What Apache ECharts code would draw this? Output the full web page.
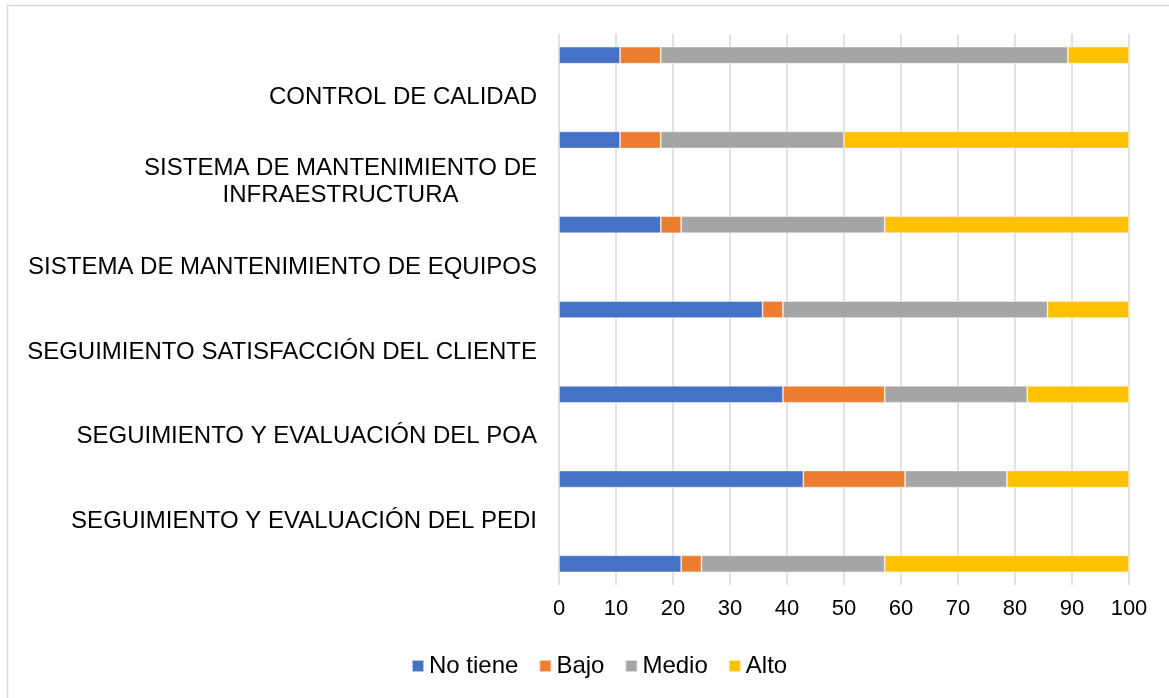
<!DOCTYPE html>
<html lang="es">
<head>
    <meta charset="UTF-8" />
    <title>Gráfico</title>
    <style>
        body {
            margin: 0;
            padding: 0;
            background: #fff;
        }
        .chart {
            width: 1169px;
            height: 698px;
        }
    </style>
</head>
<body>
<div class="chart"></div>
<script src="https://cdn.jsdelivr.net/npm/echarts@6/dist/echarts.min.js"></script>
<script>
    // etiquetas (de arriba hacia abajo), van entre las barras
    const labels = [
        'CONTROL DE CALIDAD',
        'SISTEMA DE MANTENIMIENTO DE\nINFRAESTRUCTURA',
        'SISTEMA DE MANTENIMIENTO DE EQUIPOS',
        'SEGUIMIENTO SATISFACCIÓN DEL CLIENTE',
        'SEGUIMIENTO Y EVALUACIÓN DEL POA',
        'SEGUIMIENTO Y EVALUACIÓN DEL PEDI'
    ];
    const seriesNames = ['No tiene', 'Bajo', 'Medio', 'Alto'];
    // 7 barras, de arriba hacia abajo
    const noTiene = [10.71, 10.71, 17.86, 35.71, 39.29, 42.86, 21.43];
    const bajo = [7.14, 7.14, 3.57, 3.57, 17.86, 17.86, 3.57];
    const medio = [71.43, 32.14, 35.71, 46.43, 25.00, 17.86, 32.14];
    const alto = [10.71, 50.00, 42.86, 14.29, 17.86, 21.43, 42.86];
    const xTicks = [0, 10, 20, 30, 40, 50, 60, 70, 80, 90, 100];

    const colors = ['#4472C4', '#ED7D31', '#A5A5A5', '#FFC000'];
    const font = "'Liberation Sans', Arial, sans-serif";

    // barra, etiqueta, barra, etiqueta ... barra
    const categories = [];
    for (let i = 0; i < noTiene.length; i++) {
        categories.push('');
        if (i < labels.length) categories.push(labels[i]);
    }
    function pad(arr) {
        const out = [];
        arr.forEach((v, i) => {
            out.push(v);
            if (i < arr.length - 1) out.push('-');
        });
        return out;
    }
    const values = [noTiene, bajo, medio, alto];

    const container = document.querySelector('.chart');
    const instance = echarts.init(container);
    const option = {
        backgroundColor: '#fff',
        animation: false,
        textStyle: { fontFamily: font },
        graphic: [{
            type: 'rect',
            shape: { x: 7.5, y: 5.5, width: 1300, height: 800 },
            style: { fill: 'none', stroke: '#d9d9d9', lineWidth: 1.5 },
            silent: true
        }],
        grid: { left: 559, right: 40, top: 34, bottom: 113, containLabel: false },
        legend: {
            left: 406,
            top: 649,
            itemWidth: 12,
            itemHeight: 12,
            itemGap: 20,
            icon: 'rect',
            textStyle: { fontSize: 24, color: '#000', fontFamily: font },
            data: seriesNames
        },
        xAxis: {
            type: 'value',
            min: 0,
            max: 100,
            interval: 10,
            axisLine: { show: false },
            axisTick: { show: false },
            splitLine: { lineStyle: { color: '#d9d9d9', width: 1.5 } },
            axisLabel: {
                fontSize: 22,
                color: '#000',
                margin: 13,
                fontFamily: font,
                formatter: v => xTicks.includes(v) ? String(v) : ''
            }
        },
        yAxis: {
            type: 'category',
            inverse: true,
            data: categories,
            axisLine: { show: false },
            axisTick: { show: false },
            axisLabel: {
                interval: 0,
                margin: 22,
                fontSize: 24,
                color: '#000',
                fontFamily: font,
                formatter: v => v.indexOf('\n') >= 0
                    ? v.split('\n').map(s => '{c|' + s + '}').join('\n')
                    : v,
                rich: {
                    c: { align: 'center', fontSize: 24, lineHeight: 27, color: '#000', fontFamily: font }
                }
            }
        },
        series: seriesNames.map((name, k) => ({
            name: name,
            type: 'bar',
            stack: 'total',
            barWidth: 17,
            data: pad(values[k]),
            itemStyle: {
                color: colors[k],
                borderColor: 'rgba(255,255,255,0.6)',
                borderWidth: 0.75
            }
        }))
    };
    instance.setOption(option);
</script>
</body>
</html>
